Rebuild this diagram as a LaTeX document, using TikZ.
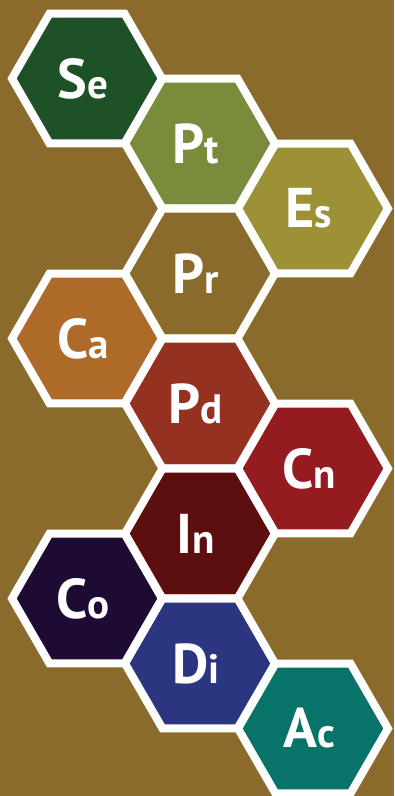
\documentclass[tikz,border=0pt]{standalone}
\usepackage{fontspec}
\setmainfont{PT Sans}
\usepackage{tikz}
\usetikzlibrary{shapes.geometric}
\definecolor{bgbrown}{HTML}{8B6B2C}
\definecolor{cse}{HTML}{1F5128}
\definecolor{cpt}{HTML}{7A8B3B}
\definecolor{ces}{HTML}{9D9137}
\definecolor{cpr}{HTML}{8B6B2C}
\definecolor{cca}{HTML}{AE6A29}
\definecolor{cpd}{HTML}{943120}
\definecolor{ccn}{HTML}{941B1F}
\definecolor{cin}{HTML}{5D0E0F}
\definecolor{cco}{HTML}{1D0B34}
\definecolor{cdi}{HTML}{2C3680}
\definecolor{cac}{HTML}{087369}
\tikzstyle{hexa} = [regular polygon, regular polygon sides=6, minimum size=150pt, inner sep=0pt, draw=white, line width=8pt]
\tikzstyle{sym} = [text=white, inner sep=0pt, xshift=-4pt]
\newcommand{\elem}[2]{{\bfseries\fontsize{56}{56}\selectfont #1}{\bfseries\fontsize{41}{41}\selectfont #2}}

\begin{document}
\begin{tikzpicture}[x=1pt, y=-1pt]
    % Background
    \fill[bgbrown] (0,0) rectangle (394,796);
    \useasboundingbox (0,0) rectangle (394,796);

    % Hexagons, column x and row k
    \foreach \name/\maj/\mn/\col/\x/\k in {se/S/e/cse/87/0, pt/P/t/cpt/200/1, es/E/s/ces/313/2,
        pr/P/r/cpr/200/3, ca/C/a/cca/87/4, pd/P/d/cpd/200/5, cn/C/n/ccn/313/6,
        in/I/n/cin/200/7, co/C/o/cco/87/8, di/D/i/cdi/200/9, ac/A/c/cac/313/10} {
        \node[hexa, fill=\col] (\name) at (\x, 78.5+65*\k) {};
        \node[sym] (\name-txt) at (\name.center) {\elem{\maj}{\mn}};
    }
\end{tikzpicture}
\end{document}
